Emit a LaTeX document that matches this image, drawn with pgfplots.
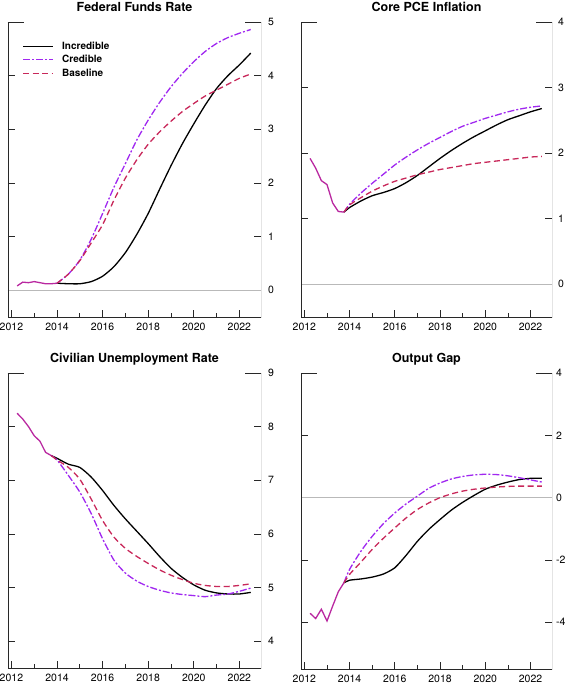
\documentclass[border=0pt]{standalone}
\usepackage{fontspec}
\setmainfont{TeX Gyre Heros}
\usepackage{pgfplots}
\pgfplotsset{compat=1.18}
\definecolor{credcol}{RGB}{160,40,240}
\definecolor{basecol}{RGB}{200,40,90}
\definecolor{histcol}{RGB}{185,40,160}
\definecolor{framecol}{RGB}{40,40,40}
\pgfplotsset{
  panel/.style={
    scale only axis,
    xmin=2011.85, xmax=2022.95,
    axis line style={draw=none},
    tick align=inside,
    xtick={2012,2014,...,2022}, minor xtick={2013,2015,...,2021},
    xtick pos=left, ytick pos=both, yticklabel pos=right,
    major tick length=7pt, minor tick length=4pt,
    every tick/.style={framecol, line width=0.8pt},
    /pgf/number format/1000 sep={},
    /pgf/number format/assume math mode=true,
    tick label style={font=\fontsize{10.5}{12}\selectfont},
    xticklabel style={anchor=north, inner sep=0pt, yshift=-6pt},
    title style={font=\bfseries\fontsize{12.5}{14}\selectfont, at={(0.5,1)}, anchor=base, yshift=5pt, inner sep=0pt},
    every axis plot/.append style={line width=1.3pt},
  },
  inc/.style={black, solid, smooth, tension=0.4},
  crd/.style={credcol, dash pattern=on 7pt off 2pt on 2pt off 2pt, smooth, tension=0.4},
  bas/.style={basecol, dash pattern=on 6pt off 3.5pt, smooth, tension=0.4},
}
\newcommand{\panelframe}{%
  \draw[framecol, line width=0.8pt] (rel axis cs:0,1) -- (rel axis cs:0,0) -- (rel axis cs:1,0) -- (rel axis cs:1,1);
  \draw[framecol, line width=0.8pt] (rel axis cs:0,1) -- ++(16pt,0pt);
  \draw[framecol, line width=0.8pt] (rel axis cs:1,1) -- ++(-16pt,0pt);
}
\begin{document}
\begin{tikzpicture}
\useasboundingbox (0pt,0pt) rectangle (567pt,-686pt);

% ---------------- Federal Funds Rate
\begin{axis}[panel, at={(8pt,-317pt)}, anchor=south west, width=253pt, height=295pt,
  yticklabel style={anchor=west, inner sep=0pt, xshift=7pt},
  ymin=-0.5, ymax=5, ytick={0,...,5}, title={Federal Funds Rate},
  legend style={at={(0.056,0.935)}, anchor=north west, draw=none, fill=none, inner sep=0pt,
    font=\bfseries\fontsize{10}{11}\selectfont, row sep=3.5pt,
    nodes={inner sep=0.5pt},
    /tikz/every odd column/.append style={column sep=8pt}},
  legend cell align=left,
  legend image code/.code={\draw[#1, line width=1.3pt] (0pt,0pt) -- (30pt,0pt);}]
\addplot[gray!55, line width=0.9pt, forget plot] coordinates {(2011.85,0) (2022.95,0)};
\addplot[histcol, solid, line width=1.3pt, forget plot] coordinates {(2012.25,0.08) (2012.5,0.15) (2012.75,0.14) (2013,0.16) (2013.25,0.14) (2013.5,0.12) (2013.75,0.12) (2014,0.13)};
\addplot[inc] coordinates {(2014,0.13) (2014.5,0.12) (2015,0.12) (2015.5,0.16) (2016,0.26) (2016.5,0.44) (2017,0.70) (2017.5,1.04) (2018,1.43) (2018.5,1.88) (2019,2.32) (2019.5,2.73) (2020,3.10) (2020.5,3.45) (2021,3.76) (2021.5,4.00) (2022,4.20) (2022.5,4.42)};
\addlegendentry{Incredible}
\addplot[crd] coordinates {(2014,0.13) (2014.5,0.30) (2015,0.56) (2015.5,0.95) (2016,1.43) (2016.5,1.92) (2017,2.36) (2017.5,2.80) (2018,3.17) (2018.5,3.50) (2019,3.79) (2019.5,4.04) (2020,4.26) (2020.5,4.45) (2021,4.60) (2021.5,4.71) (2022,4.79) (2022.5,4.86)};
\addlegendentry{Credible}
\addplot[bas] coordinates {(2014,0.13) (2014.5,0.30) (2015,0.55) (2015.5,0.88) (2016,1.22) (2016.5,1.68) (2017,2.09) (2017.5,2.43) (2018,2.72) (2018.5,2.95) (2019,3.15) (2019.5,3.33) (2020,3.48) (2020.5,3.62) (2021,3.73) (2021.5,3.84) (2022,3.95) (2022.5,4.03)};
\addlegendentry{Baseline}
\panelframe
\end{axis}

% ---------------- Core PCE Inflation
\begin{axis}[panel, at={(301pt,-317pt)}, anchor=south west, width=251pt, height=295pt,
  yticklabel style={anchor=west, inner sep=0pt, xshift=6pt},
  ymin=-0.5, ymax=4, ytick={0,...,4}, title={Core PCE Inflation}]
\addplot[gray!55, line width=0.9pt, forget plot] coordinates {(2011.85,0) (2022.95,0)};
\addplot[histcol, solid, line width=1.3pt, forget plot] coordinates {(2012.25,1.92) (2012.5,1.77) (2012.75,1.58) (2013,1.52) (2013.25,1.24) (2013.5,1.11) (2013.75,1.10)};
\addplot[inc] coordinates {(2013.75,1.10) (2014,1.17) (2014.5,1.27) (2015,1.35) (2015.5,1.40) (2016,1.46) (2016.5,1.55) (2017,1.66) (2017.5,1.79) (2018,1.92) (2018.5,2.04) (2019,2.15) (2019.5,2.25) (2020,2.34) (2020.5,2.43) (2021,2.51) (2021.5,2.57) (2022,2.63) (2022.5,2.68)};
\addplot[crd] coordinates {(2013.75,1.10) (2014,1.22) (2014.5,1.39) (2015,1.54) (2015.5,1.68) (2016,1.82) (2016.5,1.94) (2017,2.05) (2017.5,2.15) (2018,2.24) (2018.5,2.33) (2019,2.41) (2019.5,2.47) (2020,2.53) (2020.5,2.58) (2021,2.63) (2021.5,2.67) (2022,2.70) (2022.5,2.72)};
\addplot[bas] coordinates {(2013.75,1.10) (2014,1.21) (2014.5,1.32) (2015,1.42) (2015.5,1.50) (2016,1.57) (2016.5,1.62) (2017,1.67) (2017.5,1.71) (2018,1.75) (2018.5,1.78) (2019,1.81) (2019.5,1.84) (2020,1.86) (2020.5,1.88) (2021,1.90) (2021.5,1.92) (2022,1.94) (2022.5,1.95)};
\panelframe
\end{axis}

% ---------------- Civilian Unemployment Rate
\begin{axis}[panel, at={(8pt,-668pt)}, anchor=south west, width=253pt, height=295pt,
  yticklabel style={anchor=west, inner sep=0pt, xshift=7pt},
  ymin=3.5, ymax=9, ytick={4,...,9}, title={Civilian Unemployment Rate}]
\addplot[histcol, solid, line width=1.3pt, forget plot] coordinates {(2012.25,8.25) (2012.5,8.14) (2012.75,8.00) (2013,7.83) (2013.25,7.73) (2013.5,7.52) (2013.75,7.46)};
\addplot[inc] coordinates {(2013.75,7.46) (2014,7.41) (2014.5,7.30) (2015,7.24) (2015.5,7.06) (2016,6.81) (2016.5,6.53) (2017,6.28) (2017.5,6.05) (2018,5.82) (2018.5,5.58) (2019,5.36) (2019.5,5.19) (2020,5.05) (2020.5,4.95) (2021,4.90) (2021.5,4.88) (2022,4.88) (2022.5,4.91)};
\addplot[crd] coordinates {(2013.75,7.46) (2014,7.38) (2014.5,7.09) (2015,6.78) (2015.5,6.38) (2016,5.91) (2016.5,5.51) (2017,5.27) (2017.5,5.12) (2018,5.02) (2018.5,4.95) (2019,4.90) (2019.5,4.87) (2020,4.85) (2020.5,4.83) (2021,4.86) (2021.5,4.88) (2022,4.93) (2022.5,4.99)};
\addplot[bas] coordinates {(2013.75,7.46) (2014,7.38) (2014.5,7.24) (2015,7.02) (2015.5,6.65) (2016,6.25) (2016.5,5.94) (2017,5.73) (2017.5,5.58) (2018,5.45) (2018.5,5.33) (2019,5.23) (2019.5,5.15) (2020,5.08) (2020.5,5.04) (2021,5.02) (2021.5,5.02) (2022,5.04) (2022.5,5.07)};
\panelframe
\end{axis}

% ---------------- Output Gap
\begin{axis}[panel, at={(301pt,-669pt)}, anchor=south west, width=251pt, height=296pt,
  yticklabel style={anchor=west, inner sep=0pt, xshift=4pt},
  ymin=-5.5, ymax=4, ytick={-4,-2,...,4}, title={Output Gap}]
\addplot[gray!55, line width=0.9pt, forget plot] coordinates {(2011.85,0) (2022.95,0)};
\addplot[histcol, solid, line width=1.3pt, forget plot] coordinates {(2012.25,-3.71) (2012.5,-3.88) (2012.75,-3.58) (2013,-3.96) (2013.25,-3.48) (2013.5,-3.02) (2013.75,-2.73)};
\addplot[inc] coordinates {(2013.75,-2.73) (2014,-2.65) (2014.5,-2.61) (2015,-2.55) (2015.5,-2.45) (2016,-2.25) (2016.5,-1.85) (2017,-1.40) (2017.5,-1.02) (2018,-0.70) (2018.5,-0.40) (2019,-0.15) (2019.5,0.07) (2020,0.27) (2020.5,0.40) (2021,0.50) (2021.5,0.58) (2022,0.62) (2022.5,0.62)};
\addplot[crd] coordinates {(2013.75,-2.73) (2014,-2.30) (2014.5,-1.72) (2015,-1.24) (2015.5,-0.83) (2016,-0.49) (2016.5,-0.20) (2017,0.05) (2017.5,0.30) (2018,0.47) (2018.5,0.60) (2019,0.68) (2019.5,0.73) (2020,0.75) (2020.5,0.74) (2021,0.70) (2021.5,0.64) (2022,0.57) (2022.5,0.50)};
\addplot[bas] coordinates {(2013.75,-2.73) (2014,-2.46) (2014.5,-2.07) (2015,-1.66) (2015.5,-1.30) (2016,-0.97) (2016.5,-0.65) (2017,-0.38) (2017.5,-0.17) (2018,0.00) (2018.5,0.12) (2019,0.21) (2019.5,0.27) (2020,0.31) (2020.5,0.34) (2021,0.36) (2021.5,0.37) (2022,0.37) (2022.5,0.37)};
\panelframe
\end{axis}
\end{tikzpicture}
\end{document}
